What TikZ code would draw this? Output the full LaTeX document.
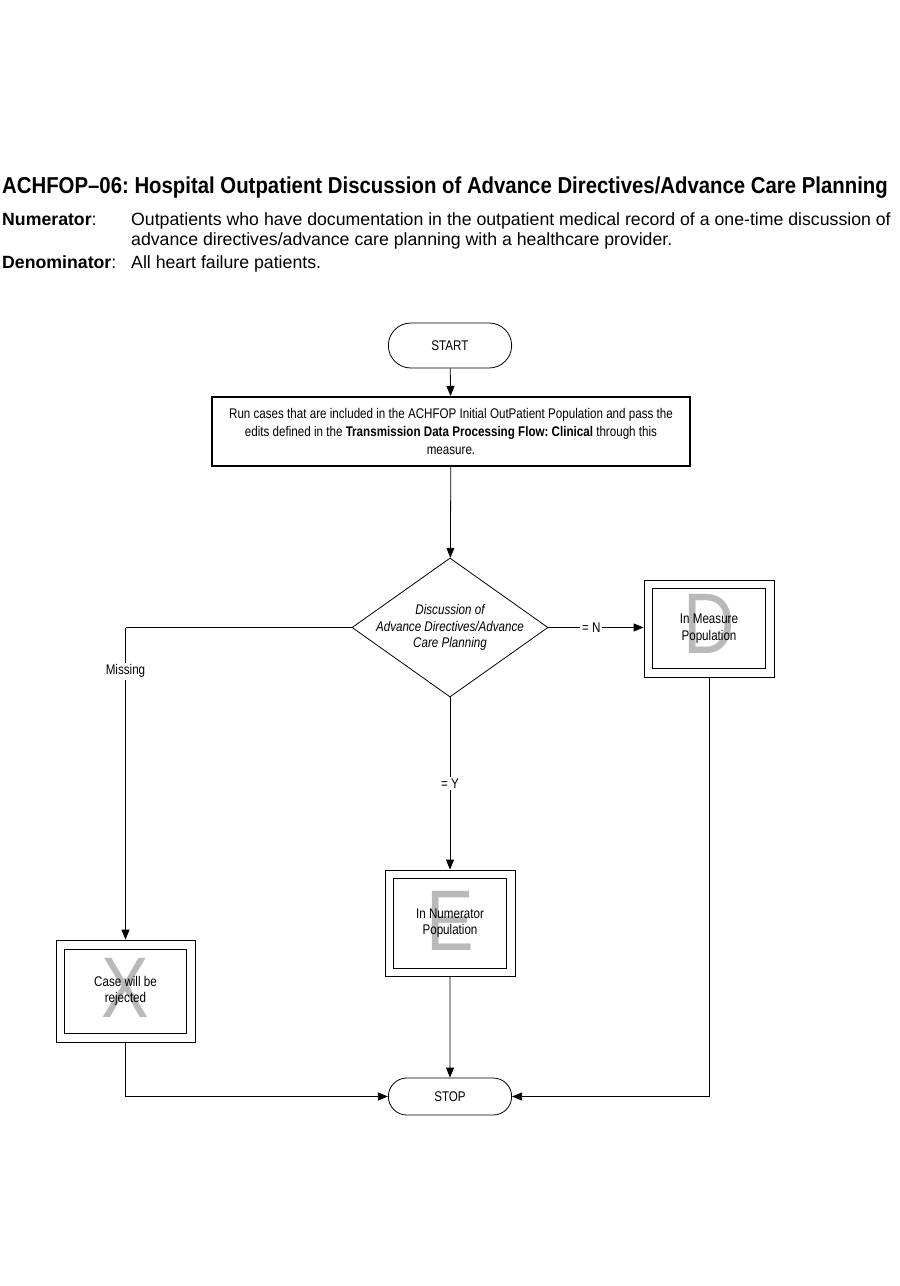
\documentclass[tikz,border=0pt]{standalone}
\usepackage{fontspec}
\setmainfont{Liberation Sans}
\newfontfamily\narrowfont{Liberation Sans}[FakeStretch=0.83]
\newfontfamily\titlefont{Liberation Sans}[FakeStretch=0.885]
\usetikzlibrary{shapes.geometric,shapes.misc,arrows.meta,positioning}
\frenchspacing

\tikzset{
  line/.style = {line width=0.8pt},
  arrow/.style = {line, -{Triangle[length=10pt,width=8pt]}},
  terminal/.style = {draw, line width=0.8pt, rounded rectangle, minimum width=130pt,
    font=\narrowfont\fontsize{14}{16}\selectfont},
  process/.style = {draw, line width=2pt, minimum width=478pt, minimum height=69pt,
    align=center, font=\narrowfont\fontsize{14}{18}\selectfont},
  decision/.style = {draw, line width=0.8pt, diamond, minimum width=196pt,
    minimum height=139pt, inner sep=0pt},
  outerbox/.style = {draw, line width=0.8pt, minimum width=130pt, minimum height=97pt},
  innerbox/.style = {draw, line width=0.8pt, minimum width=113pt, minimum height=80pt,
    align=center, font=\narrowfont\fontsize{14}{16.5}\selectfont},
  bigletter/.style = {text=gray!55, inner sep=0pt, anchor=base,
    font=\narrowfont\fontsize{86}{86}\selectfont},
  lbl/.style = {fill=white, inner sep=2pt, font=\narrowfont\fontsize{14}{16}\selectfont},
  bodytext/.style = {anchor=base west, inner sep=0pt, font=\fontsize{17.7}{20}\selectfont}
}

\begin{document}
\begin{tikzpicture}[x=1pt, y=-1pt]
\useasboundingbox (0,0) rectangle (900,1286);

% heading
\node[anchor=base west, inner sep=0pt, font=\titlefont\bfseries\fontsize{23}{26}\selectfont]
  (title) at (2,193) {ACHFOP–06: Hospital Outpatient Discussion of Advance Directives/Advance Care Planning};
\node[bodytext] (numlbl) at (2,225) {\textbf{Numerator}:};
\node[bodytext] (numtxt) at (131,225) {Outpatients who have documentation in the outpatient medical record of a one-time discussion of};
\node[bodytext] (numtxt2) at (131,245) {advance directives/advance care planning with a healthcare provider.};
\node[bodytext] (denlbl) at (2,268) {\textbf{Denominator}:};
\node[bodytext] (dentxt) at (131,268) {All heart failure patients.};

% flow
\node[terminal, minimum height=45pt] (start) at (450,345.5) {START};
\node[process] (run) at (451,431.5) {Run cases that are included in the ACHFOP Initial OutPatient Population and pass the\\
  edits defined in the \textbf{Transmission Data Processing Flow: Clinical} through this\\
  measure.};
\node[decision] (dec) at (450,627.5) {};
\node[align=center, font=\narrowfont\itshape\fontsize{14}{16.5}\selectfont] (dectxt) at (dec)
  {Discussion of\\Advance Directives/Advance\\Care Planning};

% in measure population
\node[outerbox] (meas) at (709,628.5) {};
\node[bigletter] (measltr) at ([yshift=-25pt]meas.center) {D};
\node[innerbox] (measin) at (meas) {In Measure\\Population};

% in numerator population
\node[outerbox, minimum height=106pt] (num) at (450,923) {};
\node[bigletter] (numltr) at ([yshift=-27pt]num.center) {E};
\node[innerbox, minimum height=90pt] (numin) at (num) {In Numerator\\Population};

% rejected
\node[outerbox, minimum width=139pt, minimum height=102pt] (rej) at (125.5,991) {};
\node[bigletter] (rejltr) at ([yshift=-26pt]rej.center) {X};
\node[innerbox, minimum width=122pt, minimum height=84pt] (rejin) at (rej) {Case will be\\rejected};

\node[terminal, minimum height=37pt] (stop) at (450,1096.5) {STOP};

\coordinate (lcorner) at (dec.west -| rej.north);

\draw[arrow] (start) -- (run);
\draw[arrow] (run) -- (dec);
\draw[arrow] (dec.east) -- node[lbl, pos=0.45] {= N} (dec.east -| meas.west);
\draw[line] (dec.west) -- (lcorner);
\draw[arrow] (lcorner) -- node[lbl, pos=0.14] {Missing} (rej.north);
\draw[arrow] (dec.south) -- node[lbl, pos=0.5] {= Y} (num.north);
\draw[arrow] (num) -- (stop);
\draw[arrow] (rej.south) |- (stop.west);
\draw[arrow] (meas.south) |- (stop.east);
\end{tikzpicture}
\end{document}
